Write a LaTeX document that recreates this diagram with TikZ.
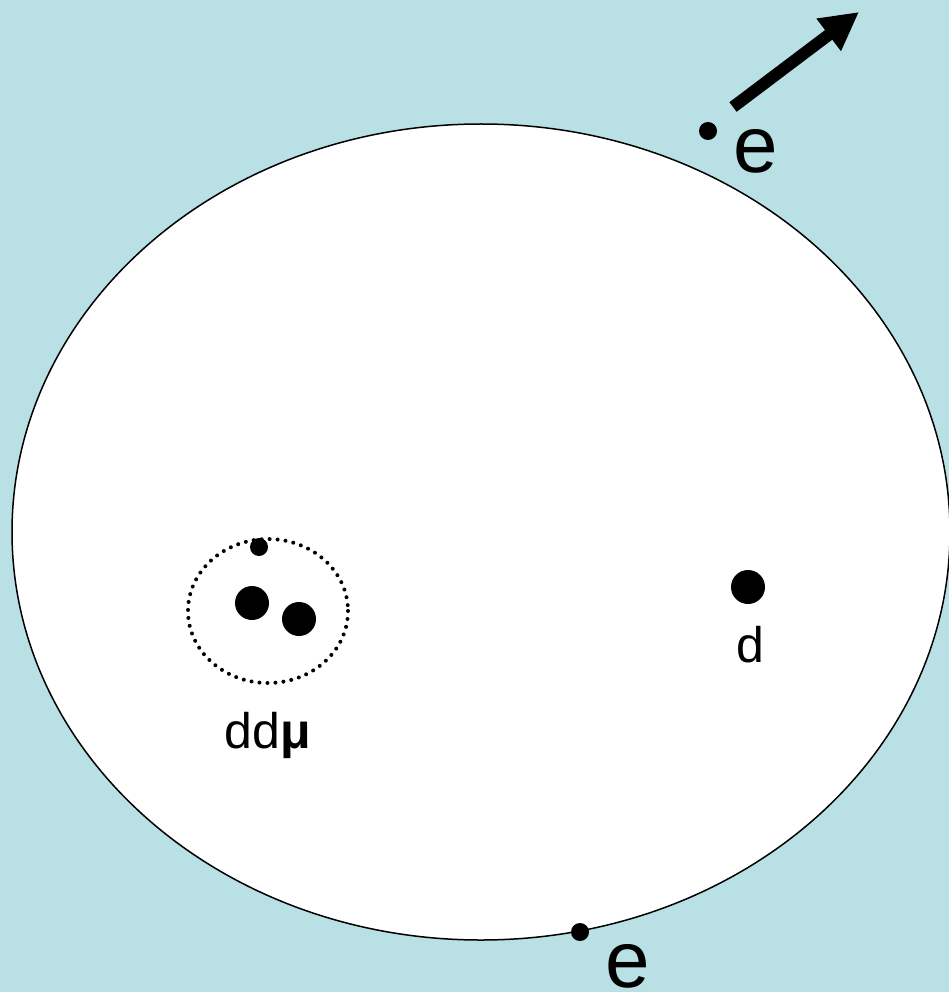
\documentclass[tikz,border=0pt]{standalone}
\usepackage{fontspec}
\setmainfont{Liberation Sans}
\usetikzlibrary{arrows.meta}
\definecolor{bgblue}{RGB}{185,224,228}
\tikzset{
  bigdot/.style={circle,fill=black,inner sep=0pt,minimum size=34pt},
  smalldot/.style={circle,fill=black,inner sep=0pt,minimum size=18pt},
  biglabel/.style={font=\fontsize{80}{80}\selectfont,inner sep=0pt},
  midlabel/.style={font=\fontsize{50}{50}\selectfont,inner sep=0pt},
  dotring/.style={line width=4pt,line cap=round,dash pattern=on 0pt off 8pt},
}
\begin{document}
\begin{tikzpicture}[x=1pt,y=-1pt]
\useasboundingbox (0,0) rectangle (949,992);
\fill[bgblue] (0,0) rectangle (949,992);
\draw[fill=white,line width=1.5pt] (481,532) ellipse [x radius=469, y radius=408];
\draw[dotring] (268,611) ellipse [x radius=80, y radius=72];
\node[smalldot] (mu) at (259,547) {};
\node[bigdot] (d1) at (252,603) {};
\node[bigdot] (d2) at (299,619) {};
\node[midlabel,anchor=base] (ddmu) at (268,748) {dd\textbf{μ}};
\node[bigdot] (d3) at (748,587) {};
\node[midlabel,anchor=base] (dlab) at (750,662) {d};
\node[smalldot] (e1) at (708,131) {};
\node[biglabel,anchor=base] (e1lab) at (756,173) {e};
\node[smalldot] (e2) at (580,932) {};
\node[biglabel,anchor=base] (e2lab) at (628,987) {e};
\coordinate (astart) at (733,107);
\coordinate (aend) at (859,12);
\draw[line width=12pt,-{Triangle[length=38pt,width=38pt]}] (astart) -- (aend);
\end{tikzpicture}
\end{document}
